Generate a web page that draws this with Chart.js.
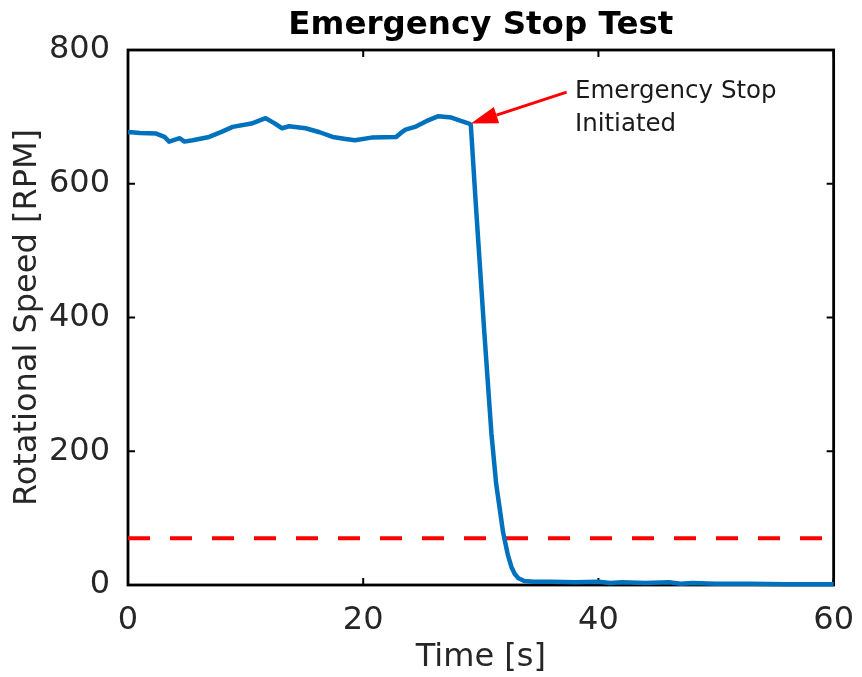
<!DOCTYPE html>
<html>
<head>
<meta charset="utf-8">
<script src="https://cdn.jsdelivr.net/npm/chart.js@4"></script>
<style>
  html, body { margin: 0; padding: 0; background: #ffffff; }
  #wrap { width: 862px; height: 677px; }
</style>
</head>
<body>
<div id="wrap"><canvas id="c" width="862" height="677"></canvas></div>
<script>
// ---- data ----
const timeS = [0, 0.3, 1, 2.4, 3.1, 3.5, 4.0, 4.4, 4.8, 5.5, 6.9, 8.0, 8.9, 10.5, 11.7, 12.4, 13.1, 13.7, 15.1, 16.3, 17.4, 18.5, 19.3, 20.7, 22.8, 23.2, 23.6, 24.4, 25.4, 26.4, 27.5, 28.3, 29.0, 29.15, 29.55, 30.3, 30.9, 31.3, 31.9, 32.3, 32.6, 32.9, 33.2, 33.7, 34.5, 36, 38, 40, 41, 42, 44, 46, 47, 48, 50, 53, 56, 60];
const speedRPM = [677, 677, 676, 675, 670, 663, 666, 668, 663, 665, 670, 678, 685, 690, 698, 691, 683, 686, 683, 677, 670, 667, 665, 669, 670, 676, 681, 685, 694, 701, 699, 694, 690, 688, 576, 377, 227, 152, 78, 45, 27, 16, 10, 6, 5, 5, 4, 5, 3, 4, 3, 4, 2, 3, 2, 2, 1, 1];
const thresholdTime = [0, 60];
const thresholdRPM = [70, 70];
const xTicks = [0, 20, 40, 60];
const yTicks = [0, 200, 400, 600, 800];
const titleText = 'Emergency Stop Test';
const xTitle = 'Time [s]';
const yTitle = 'Rotational Speed [RPM]';
const noteLines = ['Emergency Stop', 'Initiated'];
const noteAnchor = { x: 38.0, y: [737, 689] };
const arrowTail = { x: 37.3, y: 737 };
const arrowTip = { x: 29.15, y: 690 };

const FONT = "'DejaVu Sans', sans-serif";

const boxPlugin = {
  id: 'matlabBox',
  beforeDatasetsDraw(chart) {
    const { ctx, chartArea: a, scales: { x, y } } = chart;
    ctx.save();
    ctx.strokeStyle = '#000000';
    ctx.lineWidth = 2.8;
    ctx.strokeRect(a.left, a.top, a.right - a.left, a.bottom - a.top);
    ctx.lineWidth = 2;
    const tl = 7;
    ctx.beginPath();
    xTicks.forEach(v => {
      const px = x.getPixelForValue(v);
      ctx.moveTo(px, a.bottom); ctx.lineTo(px, a.bottom - tl);
      ctx.moveTo(px, a.top); ctx.lineTo(px, a.top + tl);
    });
    yTicks.forEach(v => {
      const py = y.getPixelForValue(v);
      ctx.moveTo(a.left, py); ctx.lineTo(a.left + tl, py);
      ctx.moveTo(a.right, py); ctx.lineTo(a.right - tl, py);
    });
    ctx.stroke();
    ctx.restore();
  },
  afterDraw(chart) {
    const { ctx, scales: { x, y } } = chart;
    ctx.save();
    // arrow
    const x1 = x.getPixelForValue(arrowTail.x), y1 = y.getPixelForValue(arrowTail.y);
    const x2 = x.getPixelForValue(arrowTip.x), y2 = y.getPixelForValue(arrowTip.y);
    const ang = Math.atan2(y2 - y1, x2 - x1);
    const hl = 27, hw = 8.5;
    const bx = x2 - hl * Math.cos(ang), by = y2 - hl * Math.sin(ang);
    ctx.strokeStyle = '#FF0000';
    ctx.fillStyle = '#FF0000';
    ctx.lineWidth = 3;
    ctx.beginPath();
    ctx.moveTo(x1, y1); ctx.lineTo(bx, by);
    ctx.stroke();
    ctx.beginPath();
    ctx.moveTo(x2, y2);
    ctx.lineTo(bx + hw * Math.sin(ang), by - hw * Math.cos(ang));
    ctx.lineTo(bx - hw * Math.sin(ang), by + hw * Math.cos(ang));
    ctx.closePath();
    ctx.fill();
    // note text
    ctx.fillStyle = '#1a1a1a';
    ctx.font = '24.5px ' + FONT;
    ctx.textAlign = 'left';
    ctx.textBaseline = 'middle';
    noteLines.forEach((t, i) => {
      ctx.fillText(t, x.getPixelForValue(noteAnchor.x), y.getPixelForValue(noteAnchor.y[i]));
    });
    ctx.restore();
  }
};

new Chart(document.getElementById('c'), {
  type: 'line',
  data: {
    datasets: [
      {
        label: 'Speed',
        data: timeS.map((t, i) => ({ x: t, y: speedRPM[i] })),
        borderColor: '#0072BD',
        borderWidth: 4.5,
        pointRadius: 0,
        tension: 0,
        borderJoinStyle: 'round',
        fill: false,
        clip: false
      },
      {
        label: 'Threshold',
        data: thresholdTime.map((t, i) => ({ x: t, y: thresholdRPM[i] })),
        borderColor: '#FF0000',
        borderWidth: 4,
        borderDash: [22, 20],
        pointRadius: 0,
        fill: false
      }
    ]
  },
  options: {
    responsive: false,
    animation: false,
    events: [],
    layout: { padding: { left: 5, right: 24, top: 0, bottom: 0 } },
    plugins: {
      legend: { display: false },
      tooltip: { enabled: false },
      title: {
        display: true,
        text: titleText,
        fullSize: false,
        color: '#000000',
        font: { family: FONT, size: 32.5, weight: 'bold', lineHeight: 1.2 },
        padding: { top: 6, bottom: 5 }
      }
    },
    scales: {
      x: {
        type: 'linear',
        min: 0, max: 60,
        afterBuildTicks(s) { s.ticks = xTicks.map(v => ({ value: v })); },
        afterFit(s) { s.height = 92; },
        grid: { display: false },
        border: { display: false },
        ticks: { color: '#262626', font: { family: FONT, size: 32 }, padding: 8, maxRotation: 0 },
        title: { display: true, text: xTitle, color: '#262626', font: { family: FONT, size: 32, lineHeight: 1.2 }, padding: { top: 0, bottom: 0 } }
      },
      y: {
        type: 'linear',
        min: 0, max: 800,
        afterBuildTicks(s) { s.ticks = yTicks.map(v => ({ value: v })); },
        afterFit(s) { s.width = 123; },
        grid: { display: false },
        border: { display: false },
        ticks: { color: '#262626', font: { family: FONT, size: 32 }, padding: 10 },
        title: { display: true, text: yTitle, color: '#262626', font: { family: FONT, size: 32, lineHeight: 1.2 }, padding: { top: 3, bottom: 0 } }
      }
    }
  },
  plugins: [boxPlugin]
});
</script>
</body>
</html>
